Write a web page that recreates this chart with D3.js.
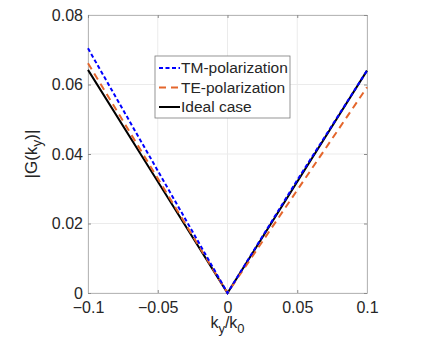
<!DOCTYPE html>
<html>
<head>
<meta charset="utf-8">
<script src="https://cdn.jsdelivr.net/npm/d3@7"></script>
<style>
  body { margin: 0; background: #fff; }
  text { font-family: "Liberation Sans", Arial, sans-serif; fill: #262626; }
</style>
</head>
<body>
<script>
// values
const kx = [-0.1, -0.05, 0, 0.05, 0.1];
const tm = [0.0704, 0.0352, 0, 0.0325, 0.064];
const te = [0.0661, 0.0330, 0, 0.0296, 0.0592];
const ideal = [0.0642, 0.0321, 0, 0.032, 0.064];
const xTicks = [-0.1, -0.05, 0, 0.05, 0.1];
const yTicks = [0, 0.02, 0.04, 0.06, 0.08];
const names = ["TM-polarization", "TE-polarization", "Ideal case"];

let width = 426, height = 346;
let m = {left: 88, right: 59, top: 15, bottom: 53};

let svg = d3.select("body").append("svg")
  .attr("width", width)
  .attr("height", height);

let x = d3.scaleLinear().domain([-0.1, 0.1]).range([m.left, width - m.right]);
let y = d3.scaleLinear().domain([0, 0.08]).range([height - m.bottom, m.top]);

// grid
svg.append("g").selectAll("line.gx")
  .data(xTicks).enter().append("line")
  .attr("x1", d => x(d)).attr("x2", d => x(d))
  .attr("y1", y(0)).attr("y2", y(0.08))
  .attr("stroke", "#ebebeb");
svg.append("g").selectAll("line.gy")
  .data(yTicks).enter().append("line")
  .attr("y1", d => y(d)).attr("y2", d => y(d))
  .attr("x1", x(-0.1)).attr("x2", x(0.1))
  .attr("stroke", "#ebebeb");

// axes
let xAxis = svg.append("g")
  .attr("transform", `translate(0,${y(0)})`)
  .call(d3.axisBottom(x).tickValues(xTicks).tickSizeInner(-3).tickSizeOuter(0)
    .tickFormat(d => d === 0 ? "0" : d3.format("")(d)));
let yAxis = svg.append("g")
  .attr("transform", `translate(${x(-0.1)},0)`)
  .call(d3.axisLeft(y).tickValues(yTicks).tickSizeInner(-3).tickSizeOuter(0)
    .tickFormat(d => d === 0 ? "0" : d3.format("")(d)));
let xTop = svg.append("g")
  .attr("transform", `translate(0,${y(0.08)})`)
  .call(d3.axisTop(x).tickValues(xTicks).tickSizeInner(-3).tickSizeOuter(0).tickFormat(""));
let yRight = svg.append("g")
  .attr("transform", `translate(${x(0.1)},0)`)
  .call(d3.axisRight(y).tickValues(yTicks).tickSizeInner(-3).tickSizeOuter(0).tickFormat(""));

[xAxis, yAxis, xTop, yRight].forEach(g => {
  g.select(".domain").attr("stroke", "#b8b8b8");
  g.selectAll(".tick line").attr("stroke", "#8a8a8a");
  g.selectAll(".tick text").style("font-size", "16px")
    .style("font-family", "Liberation Sans, Arial, sans-serif").attr("fill", "#262626");
});
xAxis.selectAll(".tick text").attr("y", 9);
yAxis.selectAll(".tick text").attr("x", -5);

// lines
let line = d3.line().x((d, i) => x(kx[i])).y(d => y(d));
let series = [
  {v: tm, color: "#0000ff", dash: "4,2.5"},
  {v: te, color: "#e4662c", dash: "7,5"},
  {v: ideal, color: "#000000", dash: null}
];
series.slice().reverse().forEach(s => {
  svg.append("path")
    .attr("d", line(s.v))
    .attr("fill", "none")
    .attr("stroke", s.color)
    .attr("stroke-width", 2)
    .attr("stroke-dasharray", s.dash);
});

// legend
let lg = svg.append("g").attr("transform", "translate(155,56)");
lg.append("rect").attr("width", 135).attr("height", 62)
  .attr("fill", "#fff").attr("stroke", "#7a7a7a").attr("stroke-width", 0.8);
series.forEach((s, i) => {
  let yy = 12 + i * 19.5;
  lg.append("line").attr("x1", 4).attr("x2", 25)
    .attr("y1", yy).attr("y2", yy)
    .attr("stroke", s.color).attr("stroke-width", 2)
    .attr("stroke-dasharray", s.dash);
  lg.append("text").attr("x", 26).attr("y", yy + 5)
    .style("font-size", "15.5px").text(names[i]);
});

// axis labels
let xl = svg.append("text")
  .attr("x", x(0)).attr("y", 328)
  .attr("text-anchor", "middle")
  .style("font-size", "16px");
xl.append("tspan").text("k");
xl.append("tspan").attr("dy", 5).style("font-size", "13px").text("y");
xl.append("tspan").attr("dy", -5).text("/k");
xl.append("tspan").attr("dy", 5).style("font-size", "13px").text("0");

let yl = svg.append("text")
  .attr("transform", `translate(37,${y(0.04)}) rotate(-90)`)
  .attr("text-anchor", "middle")
  .style("font-size", "17px");
yl.append("tspan").text("|G(k");
yl.append("tspan").attr("dy", 5).style("font-size", "14px").text("y");
yl.append("tspan").attr("dy", -5).text(")|");
</script>
</body>
</html>
